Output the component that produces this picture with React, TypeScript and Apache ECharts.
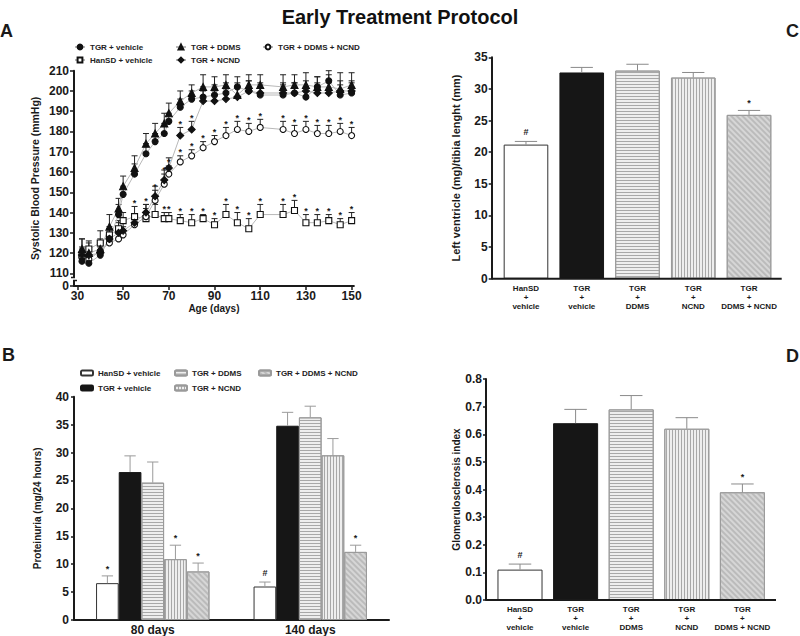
import React, { useEffect, useRef } from 'react';
import * as echarts from 'echarts';

const FONT = 'Liberation Sans, Arial, Helvetica, sans-serif';
const INK = '#1a1a1a';

// ---------- Panel A: systolic blood pressure ----------
const ageDays = [32, 35, 40, 44, 48, 50, 55, 60, 64, 68, 70, 75, 80, 85, 90, 95, 100, 105, 110, 120, 125, 130, 135, 140, 145, 150];
const tgrVehicleSBP = [116, 115, 119, 127, 139, 149, 159, 169, 175, 179, 185, 192, 196, 197, 198, 199, 202, 200, 198, 198, 199, 197, 202, 205, 198, 199];
const tgrVehicleErr = [4, 4, 4, 5, 5, 4, 5, 5, 4, 5, 4, 4, 4, 5, 5, 5, 5, 5, 5, 5, 5, 5, 5, 5, 5, 5];
const tgrDdmsSBP = [122, 120, 122, 133, 142, 153, 162, 174, 179, 184, 189, 195, 199, 202, 202, 203, 198, 203, 203, 202, 203, 203, 202, 202, 201, 203];
const tgrDdmsErr = [5, 5, 5, 6, 5, 5, 6, 5, 5, 5, 5, 5, 4, 6, 5, 5, 6, 5, 5, 6, 5, 6, 5, 6, 8, 6];
const tgrDdmsNcndSBP = [118, 117, 121, 125, 127, 129, 134, 138, 146, 154, 159, 165, 168, 172, 175, 178, 181, 180, 182, 181, 179, 181, 179, 179, 180, 178];
const tgrDdmsNcndErr = [4, 4, 4, 4, 4, 4, 4, 4, 5, 5, 4, 3, 3, 3, 3, 4, 4, 4, 4, 4, 4, 4, 4, 4, 4, 4];
const tgrDdmsNcndSig = ['', '', '', '', '', '', '', '', '*', '*', '*', '*', '*', '*', '*', '*', '*', '*', '*', '*', '*', '*', '*', '*', '*', '*'];
const hanSDSBP = [119, 122, 125, 129, 132, 136, 138, 137, 139, 137, 137, 136, 135, 137, 134, 139, 135, 132, 139, 139, 141, 135, 135, 136, 134, 136];
const hanSDErr = [8, 4, 6, 4, 4, 4, 5, 7, 5, 3, 3, 3, 4, 2, 3, 5, 5, 5, 5, 5, 5, 4, 4, 3, 3, 4];
const hanSDSig = ['', '', '', '', '', '', '*', '*', '', '*', '*', '*', '*', '*', '*', '*', '*', '*', '*', '*', '*', '*', '*', '*', '*', '*'];
const tgrNcndSBP = [119, 119, 120, 127, 130, 131, 135, 140, 148, 156, 162, 178, 181, 195, 195, 196, 197, 200, 199, 199, 199, 200, 199, 199, 200, 200];
const tgrNcndErr = [4, 4, 5, 5, 5, 5, 4, 4, 5, 5, 5, 4, 4, 5, 5, 5, 5, 5, 5, 5, 5, 5, 5, 5, 5, 5];
const tgrNcndSig = ['', '', '', '', '', '', '', '', '', '', '', '*', '*', '', '', '', '', '', '', '', '', '', '', '', '', ''];
const sbpTicks = [110, 120, 130, 140, 150, 160, 170, 180, 190, 200, 210];
const sbpBrokenZero = 103.75; // axis value at which the "0" label of the broken axis sits
const ageTicks = [30, 50, 70, 90, 110, 130, 150];

// ---------- Shared groups ----------
const groupNames = ['HanSD + vehicle', 'TGR + vehicle', 'TGR + DDMS', 'TGR + NCND', 'TGR + DDMS + NCND'];
const groupLabels = ['HanSD\n+\nvehicle', 'TGR\n+\nvehicle', 'TGR\n+\nDDMS', 'TGR\n+\nNCND', 'TGR\n+\nDDMS + NCND'];

// ---------- Panel B: proteinuria ----------
const protCategories = ['80 days', '140 days'];
const prot80 = [6.6, 26.5, 24.6, 10.9, 8.7];
const prot80Err = [1.3, 2.9, 3.7, 2.5, 1.5];
const prot80Sig = ['*', '', '', '*', '*'];
const prot140 = [6.0, 34.8, 36.3, 29.5, 12.2];
const prot140Err = [0.8, 2.4, 2.0, 3.0, 1.2];
const prot140Sig = ['#', '', '', '', '*'];

// ---------- Panel C: LV / tibia ----------
const lvMass = [21.2, 32.6, 32.9, 31.8, 25.9];
const lvErr = [0.5, 0.8, 1.0, 0.8, 0.7];
const lvSig = ['#', '', '', '', '*'];

// ---------- Panel D: glomerulosclerosis ----------
const gsi = [0.11, 0.64, 0.69, 0.62, 0.39];
const gsiErr = [0.02, 0.05, 0.05, 0.04, 0.03];
const gsiSig = ['#', '', '', '', '*'];

const groupStyles: any[] = [
  { color: '#ffffff', borderColor: '#333333', borderWidth: 1 },
  { color: '#161616', borderColor: '#161616', borderWidth: 1 },
  {
    color: '#eeeeee', borderColor: '#9a9a9a', borderWidth: 1,
    decal: { symbol: 'rect', symbolSize: 1, color: '#a8a8a8', dashArrayX: [1, 0], dashArrayY: [1, 2], rotation: 0 },
  },
  {
    color: '#eeeeee', borderColor: '#9a9a9a', borderWidth: 1,
    decal: { symbol: 'rect', symbolSize: 1, color: '#a8a8a8', dashArrayX: [1, 2], dashArrayY: [1, 0], rotation: 0 },
  },
  {
    color: '#d6d6d6', borderColor: '#9a9a9a', borderWidth: 1,
    decal: { symbol: 'rect', symbolSize: 1, color: '#bbbbbb', dashArrayX: [1, 0], dashArrayY: [2, 2], rotation: Math.PI / 4 },
  },
];

const txt = (size: number, extra: any = {}) => ({
  fontFamily: FONT, fontSize: size, fontWeight: 'bold', color: INK, ...extra,
});

function sigText(x: number, capY: number, s: string, size: number, gapHash: number, gapStar: number) {
  return {
    type: 'text',
    x,
    y: capY - (s === '*' ? gapStar : gapHash),
    style: { text: s, fill: INK, font: `bold ${size}px ${FONT}`, align: 'center', verticalAlign: 'middle' },
  };
}

function lineErrorSeries(vals: number[], errs: number[], sigs: string[] | null) {
  return {
    type: 'custom',
    xAxisIndex: 0,
    yAxisIndex: 0,
    z: 2,
    silent: true,
    data: ageDays.map((d, i) => [d, vals[i], errs[i]]),
    encode: { x: 0, y: 1 },
    renderItem: (params: any, api: any) => {
      const x = api.value(0);
      const m = api.value(1);
      const e = api.value(2);
      const p0 = api.coord([x, m]);
      const p1 = api.coord([x, m + e]);
      const st = { stroke: '#222', lineWidth: 1 };
      const children: any[] = [
        { type: 'line', shape: { x1: p0[0], y1: p0[1], x2: p1[0], y2: p1[1] }, style: st },
        { type: 'line', shape: { x1: p1[0] - 3, y1: p1[1], x2: p1[0] + 3, y2: p1[1] }, style: st },
      ];
      const s = sigs ? sigs[params.dataIndex] : '';
      if (s) children.push(sigText(p1[0], p1[1], s, 9, 5, 3.7));
      return { type: 'group', children };
    },
  };
}

function barErrorSeries(idx: number, vals: number[], errs: number[], sigs: string[], frac: number) {
  return {
    type: 'custom',
    xAxisIndex: idx,
    yAxisIndex: idx,
    z: 10,
    silent: true,
    data: vals.map((v, i) => [i, v, errs[i]]),
    encode: { x: 0, y: 1 },
    renderItem: (params: any, api: any) => {
      const i = api.value(0);
      const m = api.value(1);
      const e = api.value(2);
      const p0 = api.coord([i, m]);
      const p1 = api.coord([i, m + e]);
      const bw = api.size([1, 0])[0] * frac;
      const st = { stroke: '#8a8a8a', lineWidth: 1 };
      const children: any[] = [
        { type: 'line', shape: { x1: p0[0], y1: p0[1], x2: p1[0], y2: p1[1] }, style: st },
        { type: 'line', shape: { x1: p1[0] - bw / 4, y1: p1[1], x2: p1[0] + bw / 4, y2: p1[1] }, style: st },
      ];
      const s = sigs[params.dataIndex];
      if (s) children.push(sigText(p1[0], p1[1], s, 9, 9, 7));
      return { type: 'group', children };
    },
  };
}

function buildOption(): any {
  const aLines = [
    { name: 'HanSD + vehicle', vals: hanSDSBP, errs: hanSDErr, sigs: hanSDSig, symbol: 'rect', size: 6, fill: '#ffffff' },
    { name: 'TGR + DDMS + NCND', vals: tgrDdmsNcndSBP, errs: tgrDdmsNcndErr, sigs: tgrDdmsNcndSig, symbol: 'circle', size: 6, fill: '#ffffff' },
    { name: 'TGR + NCND', vals: tgrNcndSBP, errs: tgrNcndErr, sigs: tgrNcndSig, symbol: 'diamond', size: 7, fill: '#111111' },
    { name: 'TGR + DDMS', vals: tgrDdmsSBP, errs: tgrDdmsErr, sigs: null, symbol: 'triangle', size: 7, fill: '#111111' },
    { name: 'TGR + vehicle', vals: tgrVehicleSBP, errs: tgrVehicleErr, sigs: null, symbol: 'circle', size: 6, fill: '#111111' },
  ];

  const series: any[] = [];
  aLines.forEach((s) => {
    series.push(lineErrorSeries(s.vals, s.errs, s.sigs));
  });
  aLines.forEach((s) => {
    series.push({
      type: 'line',
      name: s.name,
      xAxisIndex: 0,
      yAxisIndex: 0,
      z: 3,
      data: ageDays.map((d, i) => [d, s.vals[i]]),
      symbol: s.symbol,
      symbolSize: s.size,
      showAllSymbol: true,
      itemStyle: { color: s.fill, borderColor: '#111111', borderWidth: 1.1 },
      lineStyle: { color: '#b8b8b8', width: 1 },
    });
  });

  // Panel B bars
  groupNames.forEach((n, k) => {
    series.push({
      type: 'bar',
      name: 'B:' + n,
      xAxisIndex: 1,
      yAxisIndex: 1,
      data: [prot80[k], prot140[k]],
      itemStyle: groupStyles[k],
      barGap: '0%',
      barCategoryGap: '28%',
    });
  });
  const protSig = [prot80Sig, prot140Sig];
  const protData: number[][] = [];
  groupNames.forEach((_, k) => protData.push([0, k, prot80[k], prot80Err[k]]));
  groupNames.forEach((_, k) => protData.push([1, k, prot140[k], prot140Err[k]]));
  series.push({
    type: 'custom',
    xAxisIndex: 1,
    yAxisIndex: 1,
    z: 10,
    silent: true,
    data: protData,
    encode: { x: 0, y: 2 },
    renderItem: (params: any, api: any) => {
      const cat = api.value(0);
      const k = api.value(1);
      const m = api.value(2);
      const e = api.value(3);
      const band = api.size([1, 0])[0];
      const bw = (band * 0.72) / groupNames.length;
      const off = (k - (groupNames.length - 1) / 2) * bw;
      const p0 = api.coord([cat, m]);
      const p1 = api.coord([cat, m + e]);
      const x = p0[0] + off;
      const st = { stroke: '#9a9a9a', lineWidth: 1 };
      const children: any[] = [
        { type: 'line', shape: { x1: x, y1: p0[1], x2: x, y2: p1[1] }, style: st },
        { type: 'line', shape: { x1: x - bw / 4, y1: p1[1], x2: x + bw / 4, y2: p1[1] }, style: st },
      ];
      const s = protSig[cat][k];
      if (s) children.push(sigText(x, p1[1], s, 9, 9, 7));
      return { type: 'group', children };
    },
  });

  // Panel C
  series.push({
    type: 'bar',
    name: 'C:lv',
    xAxisIndex: 2,
    yAxisIndex: 2,
    barCategoryGap: '20%',
    data: lvMass.map((v, i) => ({ value: v, itemStyle: groupStyles[i] })),
  });
  series.push(barErrorSeries(2, lvMass, lvErr, lvSig, 0.8));

  // Panel D
  series.push({
    type: 'bar',
    name: 'D:gsi',
    xAxisIndex: 3,
    yAxisIndex: 3,
    barCategoryGap: '19%',
    data: gsi.map((v, i) => ({ value: v, itemStyle: groupStyles[i] })),
  });
  series.push(barErrorSeries(3, gsi, gsiErr, gsiSig, 0.81));

  const axisLine = { show: true, onZero: false, lineStyle: { color: INK, width: 2 } };
  const tick = (len: number) => ({ show: true, length: len, lineStyle: { color: INK, width: 1.5 } });

  const legendA = (name: string, left: number, top: number) => ({
    data: [name], left, top, padding: 0, itemWidth: 10, itemHeight: 6, selectedMode: false,
    textStyle: txt(8, { color: '#222' }),
  });
  const legendB = (name: string, left: number, top: number) => ({
    data: ['B:' + name], left, top, padding: 0, itemWidth: 12, itemHeight: 5, selectedMode: false,
    formatter: (n: string) => n.replace('B:', ''),
    textStyle: txt(8, { color: '#222' }),
  });

  return {
    animation: false,
    backgroundColor: '#ffffff',
    title: {
      text: 'Early Treatment Protocol', left: 'center', top: 2,
      textStyle: { fontFamily: FONT, fontSize: 20, fontWeight: 'bold', color: '#111' },
    },
    legend: [
      legendA('TGR + vehicle', 74, 43),
      legendA('TGR + DDMS', 175, 43),
      legendA('TGR + DDMS + NCND', 262, 43),
      legendA('HanSD + vehicle', 74, 56),
      legendA('TGR + NCND', 175, 56),
      legendB('HanSD + vehicle', 80, 369),
      legendB('TGR + DDMS', 174, 369),
      legendB('TGR + DDMS + NCND', 258, 369),
      legendB('TGR + vehicle', 80, 384),
      legendB('TGR + NCND', 174, 384),
    ],
    grid: [
      { left: 74, top: 70.7, width: 279.9, height: 215.3, outerBoundsMode: 'none' },
      { left: 74, top: 396.7, width: 315, height: 223.3, outerBoundsMode: 'none' },
      { left: 498.1, top: 57.3, width: 278.8, height: 221.4, outerBoundsMode: 'none' },
      { left: 492.2, top: 379, width: 278, height: 221, outerBoundsMode: 'none' },
    ],
    xAxis: [
      {
        type: 'value', gridIndex: 0, min: 28.5, max: 151,
        axisLine, axisTick: { ...tick(4), customValues: ageTicks },
        axisLabel: { ...txt(12), margin: 4, customValues: ageTicks },
        splitLine: { show: false },
        name: 'Age (days)', nameLocation: 'middle', nameGap: 17, nameTextStyle: txt(10), nameMoveOverlap: false,
      },
      {
        type: 'category', gridIndex: 1, data: protCategories,
        axisLine, axisTick: { show: false }, axisLabel: { ...txt(12), margin: 4 },
      },
      {
        type: 'category', gridIndex: 2, data: groupLabels,
        axisLine: { show: false }, axisTick: { show: false },
        axisLabel: { ...txt(8, { lineHeight: 9 }), margin: 5, interval: 0 },
      },
      {
        type: 'category', gridIndex: 3, data: groupLabels,
        axisLine: { show: false }, axisTick: { show: false },
        axisLabel: { ...txt(8, { lineHeight: 9 }), margin: 5, interval: 0 },
      },
    ],
    yAxis: [
      {
        type: 'value', gridIndex: 0, min: sbpBrokenZero, max: 210,
        axisLine, axisTick: { ...tick(4), customValues: [sbpBrokenZero, ...sbpTicks] },
        axisLabel: {
          ...txt(12), margin: 5, customValues: [sbpBrokenZero, ...sbpTicks],
          formatter: (v: number) => (v < sbpTicks[0] ? '0' : String(v)),
        },
        splitLine: { show: false },
        name: 'Systolic Blood Pressure (mmHg)', nameLocation: 'middle', nameGap: 34,
        nameTextStyle: txt(10.5), nameMoveOverlap: false,
      },
      {
        type: 'value', gridIndex: 1, min: 0, max: 40, interval: 5,
        axisLine, axisTick: tick(3), axisLabel: { ...txt(12), margin: 5 }, splitLine: { show: false },
        name: 'Proteinuria (mg/24 hours)', nameLocation: 'middle', nameGap: 32,
        nameTextStyle: txt(10), nameMoveOverlap: false,
      },
      {
        type: 'value', gridIndex: 2, min: 0, max: 35, interval: 5, offset: 6.4,
        axisLine, axisTick: tick(3), axisLabel: { ...txt(12), margin: 4 }, splitLine: { show: false },
        name: 'Left ventricle (mg)/tibia lenght (mm)', nameLocation: 'middle', nameGap: 30,
        nameTextStyle: txt(11), nameMoveOverlap: false,
      },
      {
        type: 'value', gridIndex: 3, min: 0, max: 0.8, interval: 0.1, offset: 6.2,
        axisLine, axisTick: tick(3),
        axisLabel: { ...txt(12), margin: 4, formatter: (v: number) => v.toFixed(1) },
        splitLine: { show: false },
        name: 'Glomerulosclerosis index', nameLocation: 'middle', nameGap: 25,
        nameTextStyle: txt(10), nameMoveOverlap: false,
      },
    ],
    graphic: [
      { type: 'text', x: 0, y: 31, style: { text: 'A', font: `bold 18px ${FONT}`, fill: INK, verticalAlign: 'middle' } },
      { type: 'text', x: 2, y: 355, style: { text: 'B', font: `bold 18px ${FONT}`, fill: INK, verticalAlign: 'middle' } },
      { type: 'text', x: 786, y: 31, style: { text: 'C', font: `bold 18px ${FONT}`, fill: INK, verticalAlign: 'middle' } },
      { type: 'text', x: 786, y: 356, style: { text: 'D', font: `bold 18px ${FONT}`, fill: INK, verticalAlign: 'middle' } },
      { type: 'line', shape: { x1: 491.7, y1: 278.7, x2: 781.7, y2: 278.7 }, style: { stroke: INK, lineWidth: 2 }, z: 50 },
      { type: 'line', shape: { x1: 486, y1: 600, x2: 776, y2: 600 }, style: { stroke: INK, lineWidth: 2 }, z: 50 },
      { type: 'rect', shape: { x: 71, y: 277.5, width: 6, height: 3 }, style: { fill: '#ffffff' }, z: 100 },
      { type: 'line', shape: { x1: 71, y1: 277.5, x2: 75, y2: 277.5 }, style: { stroke: INK, lineWidth: 1.5 }, z: 101 },
      { type: 'line', shape: { x1: 73, y1: 280.5, x2: 77, y2: 280.5 }, style: { stroke: INK, lineWidth: 1.5 }, z: 101 },
    ],
    series,
  };
}

export default function App() {
  const ref = useRef<HTMLDivElement>(null);
  useEffect(() => {
    if (!ref.current) return;
    const chart = echarts.init(ref.current, null, { renderer: 'svg' });
    chart.setOption(buildOption());
    return () => chart.dispose();
  }, []);
  return (
    <div
      ref={ref}
      style={{ position: 'absolute', left: 0, top: 0, width: 800, height: 636, background: '#fff' }}
    />
  );
}
